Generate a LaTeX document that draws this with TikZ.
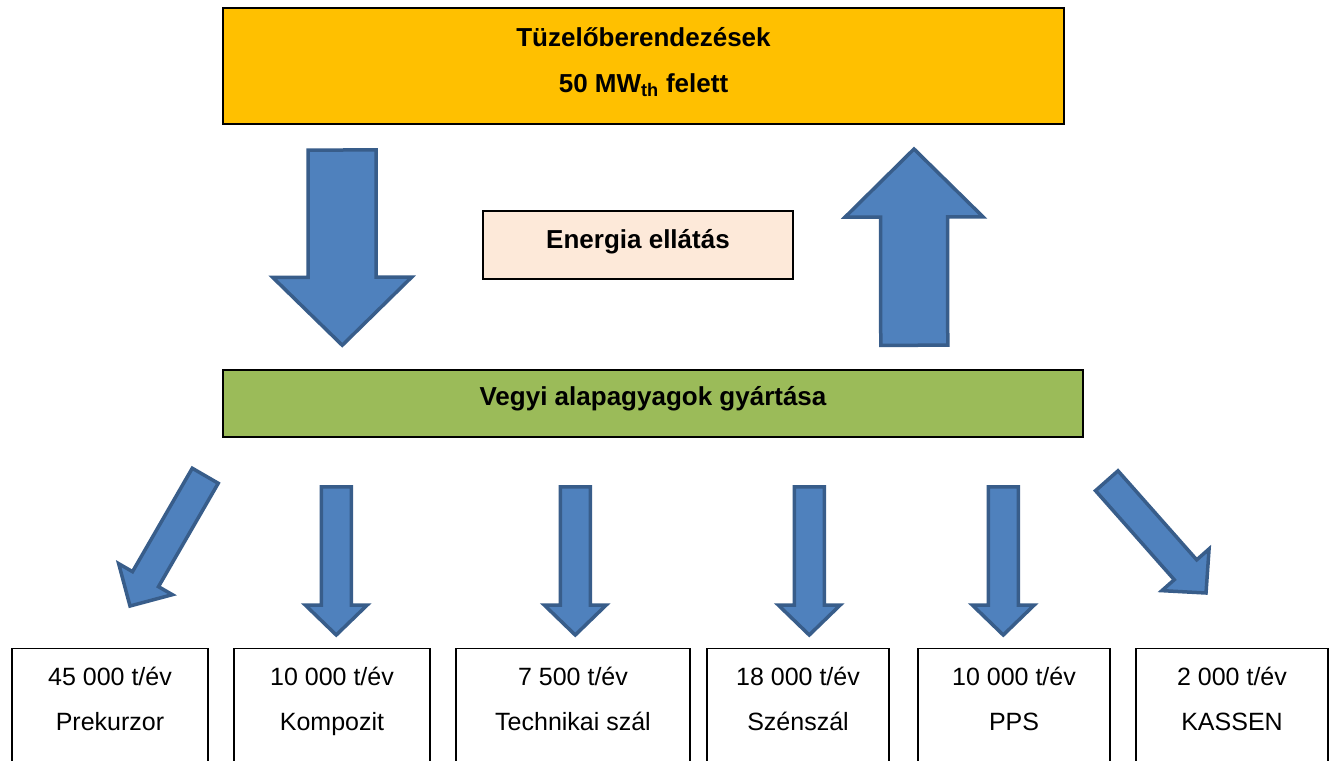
\documentclass[tikz,border=0pt]{standalone}
\usepackage{fontspec}
\setmainfont{Liberation Sans}
\usetikzlibrary{calc,positioning}

\definecolor{fireorange}{HTML}{FFC000}
\definecolor{chemgreen}{HTML}{9BBB59}
\definecolor{peach}{HTML}{FDE9D9}
\definecolor{arrowfill}{HTML}{4F81BD}
\definecolor{arrowline}{HTML}{385D8A}

% block arrow: [opts]{tail}{tip}{shaft half width}{head half width}{head length}
\newcommand{\fatarrow}[6][]{%
  \draw[fatarrow,#1] let \p1=($(#3)-(#2)$), \n1={atan2(\y1,\x1)}, \n2={veclen(\x1,\y1)} in
    {[shift={(#2)}, rotate=\n1]
     (0pt,-#4pt) -- ({\n2-#6pt},-#4pt) -- ({\n2-#6pt},-#5pt) -- (\n2,0pt)
     -- ({\n2-#6pt},#5pt) -- ({\n2-#6pt},#4pt) -- (0pt,#4pt) -- cycle};}

\begin{document}
\begin{tikzpicture}[x=1pt, y=-1pt,
    box/.style={draw, inner sep=0pt, align=center},
    topbox/.style={box, fill=fireorange, line width=2pt, minimum width=841pt, minimum height=116pt,
      font=\bfseries\fontsize{26}{46}\selectfont, text height=64pt, text depth=11.4pt},
    midbox/.style={box, fill=peach, line width=1.5pt, minimum width=310pt, minimum height=68pt,
      font=\bfseries\fontsize{26}{31}\selectfont, text height=18pt, text depth=11.4pt},
    greenbox/.style={box, fill=chemgreen, line width=1.5pt, minimum width=860pt, minimum height=67pt,
      font=\bfseries\fontsize{26}{31}\selectfont, text height=18pt, text depth=14.4pt},
    prodbox/.style={box, anchor=north, line width=1.2pt, minimum height=140pt,
      font=\fontsize{25}{45}\selectfont, text height=82pt, text depth=58pt},
    fatarrow/.style={fill=arrowfill, draw=arrowline, line width=3.5pt, line join=miter}]
    \useasboundingbox[fill=white] (0,0) rectangle (1337,760);

    \node[topbox] (tuz) at (643.5,66) {Tüzelőberendezések\\50 MW\textsubscript{th} felett};
    \node[midbox] (energia) at (638,245) {Energia ellátás};
    \node[greenbox] (vegyi) at (653,403.5) {Vegyi alapagyagok gyártása};

    \node[prodbox, minimum width=196pt] (p1) at (110,648) {45 000 t/év\\Prekurzor};
    \node[prodbox, minimum width=196pt] (p2) at (332,648) {10 000 t/év\\Kompozit};
    \node[prodbox, minimum width=234pt] (p3) at (573,648) {7 500 t/év\\Technikai szál};
    \node[prodbox, minimum width=182pt] (p4) at (798,648) {18 000 t/év\\Szénszál};
    \node[prodbox, minimum width=192pt] (p5) at (1014,648) {10 000 t/év\\PPS};
    \node[prodbox, minimum width=192pt] (p6) at (1232,648) {2 000 t/év\\KASSEN};

    % big arrows between the two wide boxes
    \coordinate (downtail) at ($(tuz.south west)+(120,25)$);
    \coordinate (downtip) at ($(vegyi.north west)+(120,-24)$);
    \coordinate (uptail) at ($(vegyi.north west)+(692,-24)$);
    \coordinate (uptip) at ($(tuz.south west)+(692,24)$);
    \fatarrow{downtail}{downtip}{34}{69.5}{68}
    \fatarrow{uptail}{uptip}{33.5}{69}{68}

    % small arrows down to the products
    \coordinate (lefttail) at ($(vegyi.south west)+(-17,38)$);
    \coordinate (lefttip) at ($(p1.north)+(20,-42)$);
    \fatarrow{lefttail}{lefttip}{15}{31}{31}
    \foreach \x/\tgt in {114/p2, 353/p3, 587/p4, 781/p5} {
      \coordinate (tail-\tgt) at ($(vegyi.south west)+(\x,49)$);
      \coordinate (tip-\tgt) at ($(tail-\tgt |- \tgt.north)+(0,-13)$);
      \fatarrow{tail-\tgt}{tip-\tgt}{15}{31}{30}
    }
    \coordinate (righttail) at ($(vegyi.south east)+(23,43)$);
    \coordinate (righttip) at ($(p6.north)+(-26,-55)$);
    \fatarrow{righttail}{righttip}{15}{31.5}{31}
\end{tikzpicture}
\end{document}
